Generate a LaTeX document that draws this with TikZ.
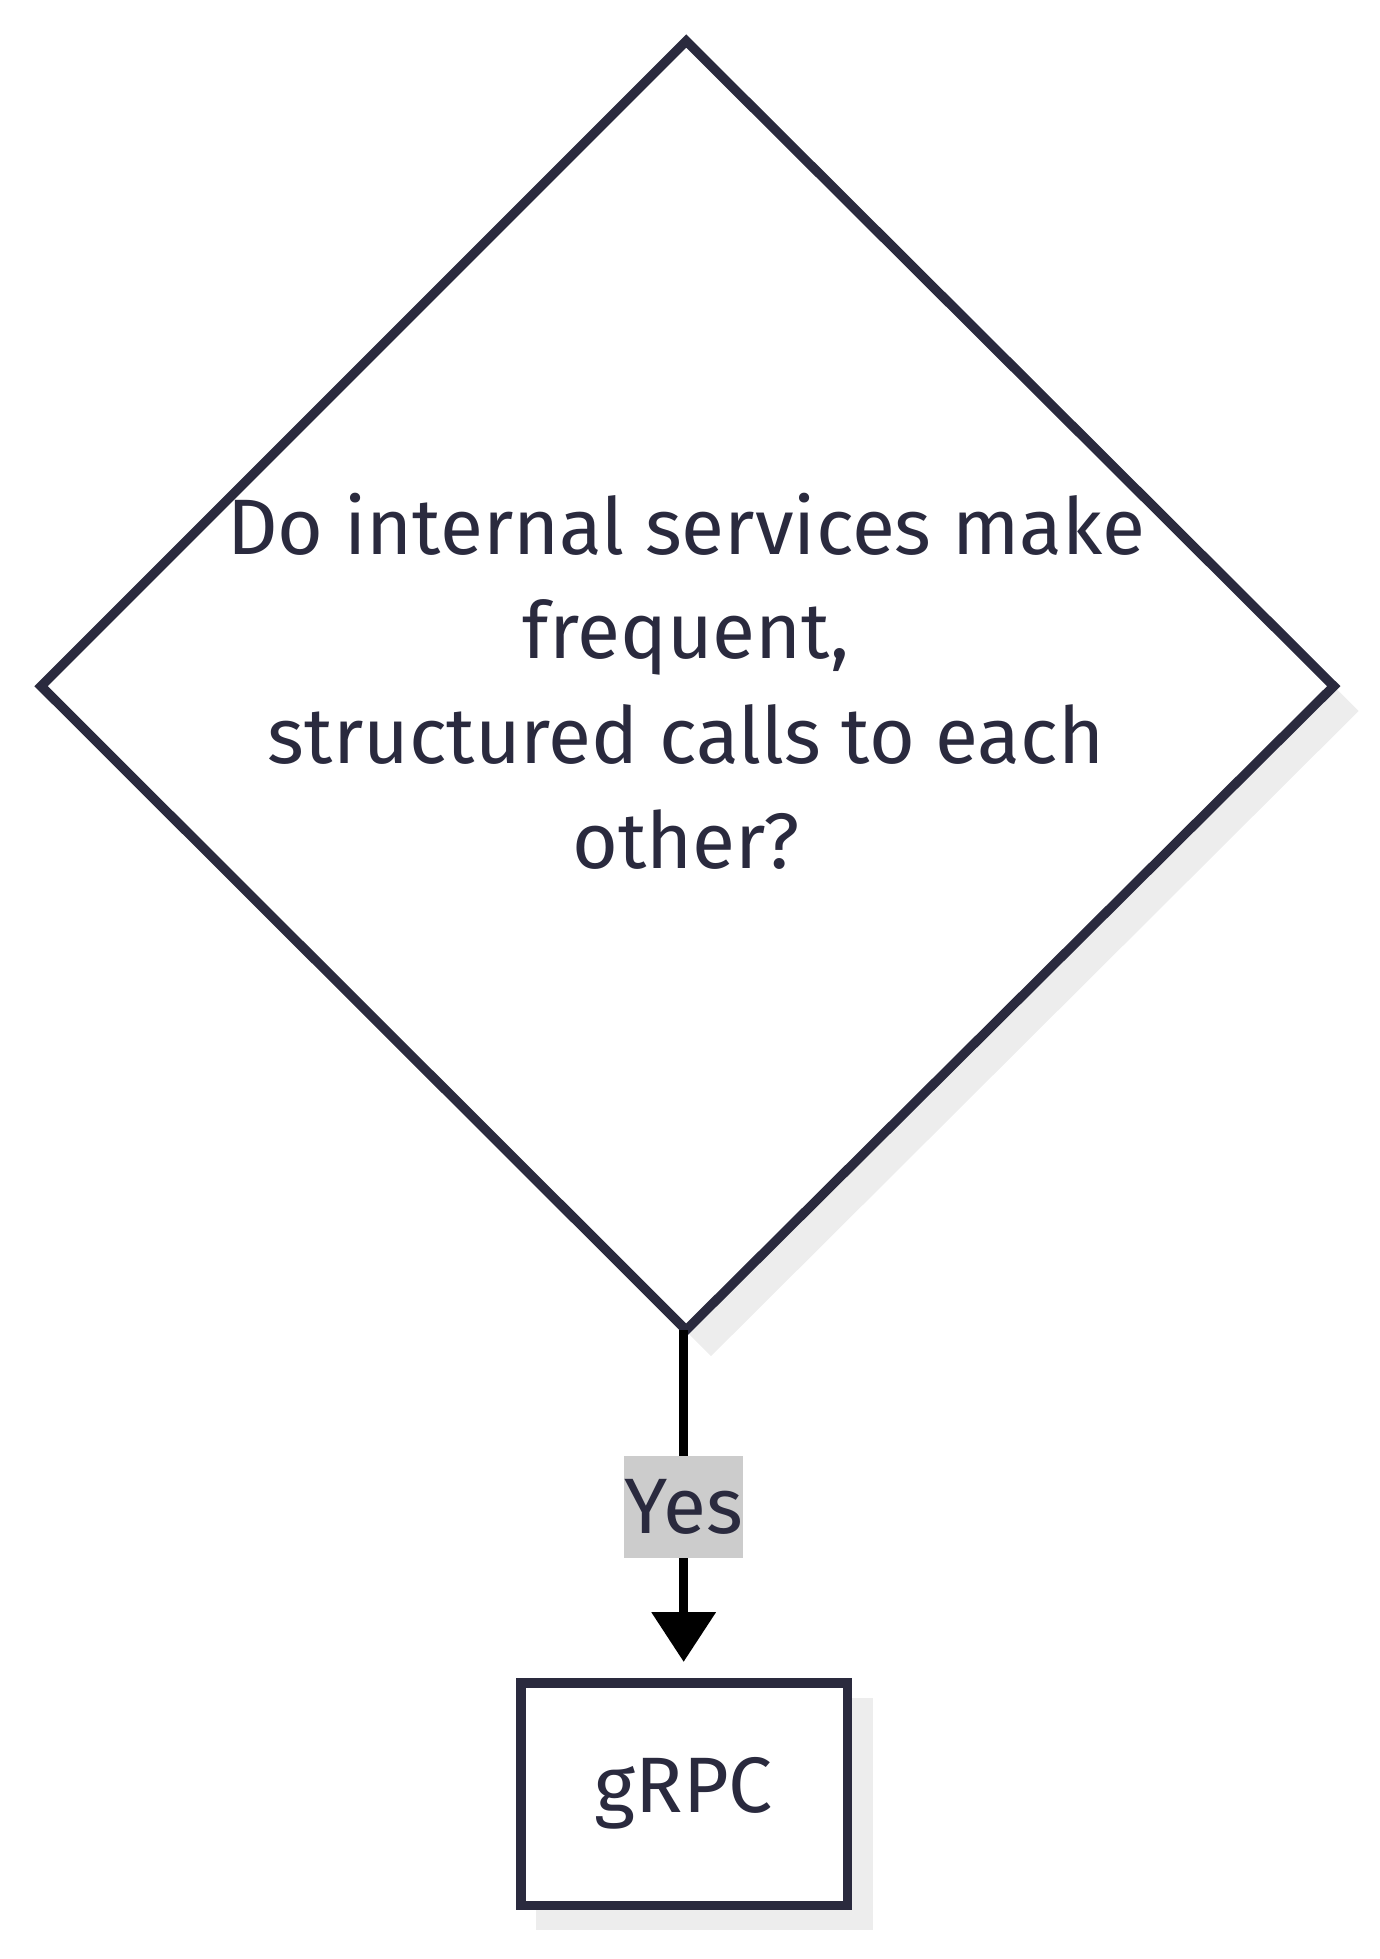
\documentclass[tikz,border=0pt]{standalone}
\usepackage{fontspec}
\setmainfont{Fira Sans}
\usetikzlibrary{arrows.meta}
\definecolor{ink}{HTML}{2A2A3E}
\begin{document}
\begin{tikzpicture}[x=0.02cm,y=-0.02cm,
  lw/.style={line width=4.3pt,draw=ink,line join=miter},
  shad/.style={fill=black!7},
  txt/.style={text=ink,font=\fontsize{36}{48}\selectfont,align=center}]
\useasboundingbox (0,0) rectangle (1110,1576);
\fill[shad] (572,53)--(1093,572)--(572,1091)--(53,572)--cycle;
\filldraw[lw,fill=white] (552,33)--(1073,552)--(552,1070)--(33,552)--cycle;
\node[txt] (q) at (552,548) {Do internal services make\\frequent,\\structured calls to each\\other?};
\coordinate (qb) at (550,1070);
\coordinate (tip) at (550,1337);
\fill[shad] (431,1366) rectangle (702,1553);
\filldraw[lw,fill=white] (419,1354) rectangle (682,1533);
\node[txt] (g) at (550,1443) {gRPC};
\draw[line width=4.3pt,-{Triangle[length=0.8cm,width=1cm]}] (qb) -- (tip);
\node[fill=black!20,text=ink,font=\fontsize{36}{40}\selectfont,minimum width=1.92cm,minimum height=1.64cm,inner sep=0pt] (y) at (550,1212) {Yes};
\end{tikzpicture}
\end{document}
